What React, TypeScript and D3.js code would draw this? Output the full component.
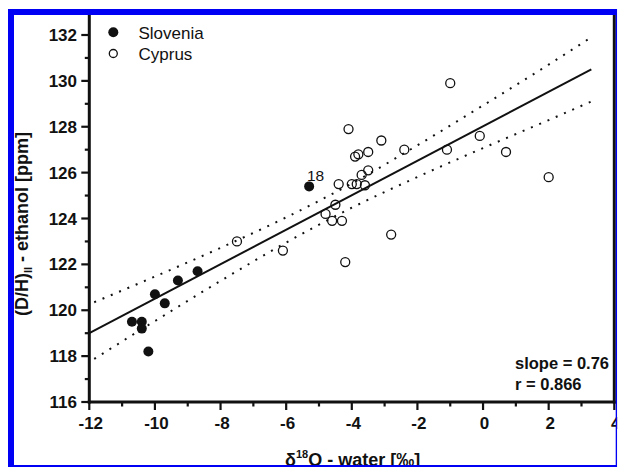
import React from "react";
import * as d3 from "d3";

const sloveniaX = [-10.7, -10.4, -10.4, -10.2, -10.0, -9.7, -9.3, -8.7, -5.3];
const sloveniaY = [119.5, 119.5, 119.2, 118.2, 120.7, 120.3, 121.3, 121.7, 125.4];

const cyprusX = [-1.0, -4.1, -3.1, -0.1, -3.9, -3.8, -3.5, -2.4, -1.1, 0.7, 2.0, -3.5, -3.7, -3.6, -4.4, -4.0, -3.85, -4.5, -4.8, -4.6, -4.3, -2.8, -4.2, -7.5, -6.1];
const cyprusY = [129.9, 127.9, 127.4, 127.6, 126.7, 126.8, 126.9, 127.0, 127.0, 126.9, 125.8, 126.1, 125.9, 125.45, 125.5, 125.5, 125.5, 124.6, 124.2, 123.9, 123.9, 123.3, 122.1, 123.0, 122.6];

const fitX = [-12, 3.3];
const fitY = [119.0, 130.5];

const bandX = [-11.85, -10, -8, -6, -4, -2, 0, 2, 3.3];
const bandUpper = [120.35, 121.47, 122.72, 124.05, 125.53, 127.19, 128.93, 130.71, 131.9];
const bandLower = [117.88, 119.53, 121.28, 122.95, 124.47, 125.81, 127.07, 128.29, 129.1];

const xMajor = [-12, -10, -8, -6, -4, -2, 0, 2, 4];
const xMinor = [-11, -9, -7, -5, -3, -1, 1, 3];
const yMajor = [116, 118, 120, 122, 124, 126, 128, 130, 132];
const yMinor = [117, 119, 121, 123, 125, 127, 129, 131];

const FONT = "'Liberation Sans', Arial, Helvetica, sans-serif";
const BLUE = "#0000f5";

export default function App() {
  const x = d3.scaleLinear().domain([-12, 4]).range([89.3, 614.3]);
  const y = d3.scaleLinear().domain([116, 132]).range([402, 35]);

  const line = d3
    .line<[number, number]>()
    .x((d) => x(d[0]))
    .y((d) => y(d[1]));
  const curve = d3
    .line<[number, number]>()
    .x((d) => x(d[0]))
    .y((d) => y(d[1]))
    .curve(d3.curveMonotoneX);

  const fit = fitX.map((v, i) => [v, fitY[i]] as [number, number]);
  const up = bandX.map((v, i) => [v, bandUpper[i]] as [number, number]);
  const lo = bandX.map((v, i) => [v, bandLower[i]] as [number, number]);

  const x0 = x(-12);
  const yb = y(116);

  return (
    <svg
      width={618}
      height={467}
      style={{ position: "absolute", left: 0, top: 0 }}
      fontFamily={FONT}
    >
      <rect x={0} y={0} width={618} height={467} fill="#fff" />
      <path d={curve(up) || ""} fill="none" stroke="#111" strokeWidth={2} strokeDasharray="2 7" />
      <path d={curve(lo) || ""} fill="none" stroke="#111" strokeWidth={2} strokeDasharray="2 7" />
      <path d={line(fit) || ""} fill="none" stroke="#111" strokeWidth={2} />

      {cyprusX.map((v, i) => (
        <circle key={"c" + i} cx={x(v)} cy={y(cyprusY[i])} r={4.5} fill="none" stroke="#111" strokeWidth={1.3} />
      ))}
      {sloveniaX.map((v, i) => (
        <circle key={"s" + i} cx={x(v)} cy={y(sloveniaY[i])} r={5} fill="#111" />
      ))}
      <text x={307} y={181} fontSize={15.5} fill="#111">18</text>

      {/* axes */}
      <line x1={x0} x2={x0} y1={9} y2={yb + 1.5} stroke="#111" strokeWidth={3} />
      <line x1={x(4)} x2={x(4)} y1={9} y2={yb + 1.5} stroke="#111" strokeWidth={3} />
      <line x1={x0 - 1.5} x2={x(4) + 1.5} y1={yb} y2={yb} stroke="#111" strokeWidth={3} />
      {yMajor.map((v) => (
        <line key={"ym" + v} x1={x0 - 8} x2={x0} y1={y(v)} y2={y(v)} stroke="#111" strokeWidth={2.2} />
      ))}
      {yMinor.map((v) => (
        <line key={"yn" + v} x1={x0 - 4.5} x2={x0} y1={y(v)} y2={y(v)} stroke="#111" strokeWidth={2.2} />
      ))}
      {xMajor.map((v) => (
        <line key={"xm" + v} x1={x(v)} x2={x(v)} y1={yb} y2={yb + 8} stroke="#111" strokeWidth={2.2} />
      ))}
      {xMinor.map((v) => (
        <line key={"xn" + v} x1={x(v)} x2={x(v)} y1={yb} y2={yb + 4.5} stroke="#111" strokeWidth={2.2} />
      ))}
      {yMajor.map((v) => (
        <text key={"yl" + v} x={77} y={y(v) + 6} textAnchor="end" fontSize={17} fontWeight="bold" fill="#111">
          {v}
        </text>
      ))}
      {xMajor.map((v) => (
        <text key={"xl" + v} x={x(v) + 1.5} y={428.5} textAnchor="middle" fontSize={17} fontWeight="bold" fill="#111">
          {v < 0 ? "-" + Math.abs(v) : v}
        </text>
      ))}

      {/* axis titles */}
      <text x={285} y={466} fontSize={18} fontWeight="bold" fill="#111">
        <tspan>δ</tspan>
        <tspan fontSize={11} dy={-8}>18</tspan>
        <tspan dy={8}>O - water [‰]</tspan>
      </text>
      <text transform="translate(28,224) rotate(-90)" textAnchor="middle" fontSize={18} fontWeight="bold" fill="#111">
        <tspan>(D/H)</tspan>
        <tspan fontSize={11} dy={4}>II</tspan>
        <tspan dy={-4}> - ethanol [ppm]</tspan>
      </text>

      {/* legend */}
      <circle cx={113.3} cy={32.3} r={5} fill="#111" />
      <text x={138.5} y={38.5} fontSize={17} fill="#111">Slovenia</text>
      <circle cx={113.3} cy={53.5} r={4} fill="none" stroke="#111" strokeWidth={1.3} />
      <text x={138.5} y={59.5} fontSize={17} fill="#111">Cyprus</text>

      {/* stats */}
      <text x={515} y={368.5} fontSize={16.5} fontWeight="bold" fill="#111">slope = 0.76</text>
      <text x={515} y={389.5} fontSize={16.5} fontWeight="bold" fill="#111">r = 0.866</text>

      {/* blue frame */}
      <rect x={8} y={9} width={609} height={6} fill={BLUE} />
      <rect x={8} y={9} width={6} height={458} fill={BLUE} />
      <rect x={615.7} y={9} width={1.5} height={458} fill={BLUE} />
      <rect x={617.2} y={0} width={1} height={467} fill="#fff" />
      <rect x={8} y={465} width={609} height={2} fill={BLUE} />
    </svg>
  );
}
